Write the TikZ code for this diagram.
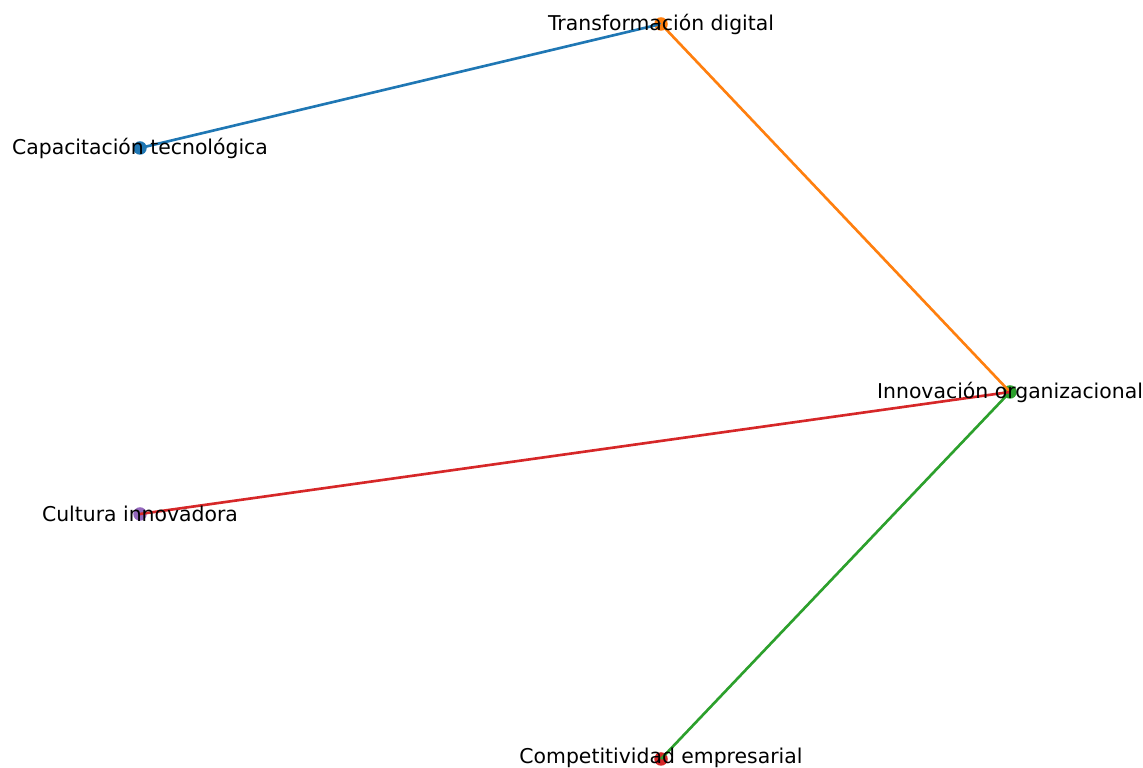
\documentclass[tikz,border=0pt]{standalone}
\usepackage{fontspec}
\setmainfont{DejaVu Sans}
\definecolor{tabblue}{HTML}{1F77B4}
\definecolor{taborange}{HTML}{FF7F0E}
\definecolor{tabgreen}{HTML}{2CA02C}
\definecolor{tabred}{HTML}{D62728}
\definecolor{tabpurple}{HTML}{9467BD}
\begin{document}
\begin{tikzpicture}[
  dot/.style={circle, inner sep=0pt, minimum size=0.27cm},
  edge/.style={line width=1.5pt},
  lbl/.style={font=\fontsize{11.6}{13}\selectfont, text=black, inner sep=0pt, anchor=center}
]
\useasboundingbox (0,0) rectangle (22.86,15.36);
\coordinate (cap) at (2.8,12.4);
\coordinate (tra) at (13.22,14.88);
\coordinate (inn) at (20.2,7.52);
\coordinate (cul) at (2.8,5.08);
\coordinate (com) at (13.22,0.18);
\node[dot, fill=tabblue] (ncap) at (cap) {};
\node[dot, fill=taborange] (ntra) at (tra) {};
\node[dot, fill=tabgreen] (ninn) at (inn) {};
\node[dot, fill=tabpurple] (ncul) at (cul) {};
\node[dot, fill=tabred] (ncom) at (com) {};
\draw[edge, tabblue] (ncap.center) -- (ntra.center);
\draw[edge, taborange] (ntra.center) -- (ninn.center);
\draw[edge, tabgreen] (ninn.center) -- (ncom.center);
\draw[edge, tabred] (ncul.center) -- (ninn.center);
\node[lbl] (lcap) at (cap) {Capacitación tecnológica};
\node[lbl] (ltra) at (tra) {Transformación digital};
\node[lbl] (linn) at (inn) {Innovación organizacional};
\node[lbl] (lcul) at (cul) {Cultura innovadora};
\node[lbl, yshift=0.02cm] (lcom) at (com) {Competitividad empresarial};
\end{tikzpicture}
\end{document}
